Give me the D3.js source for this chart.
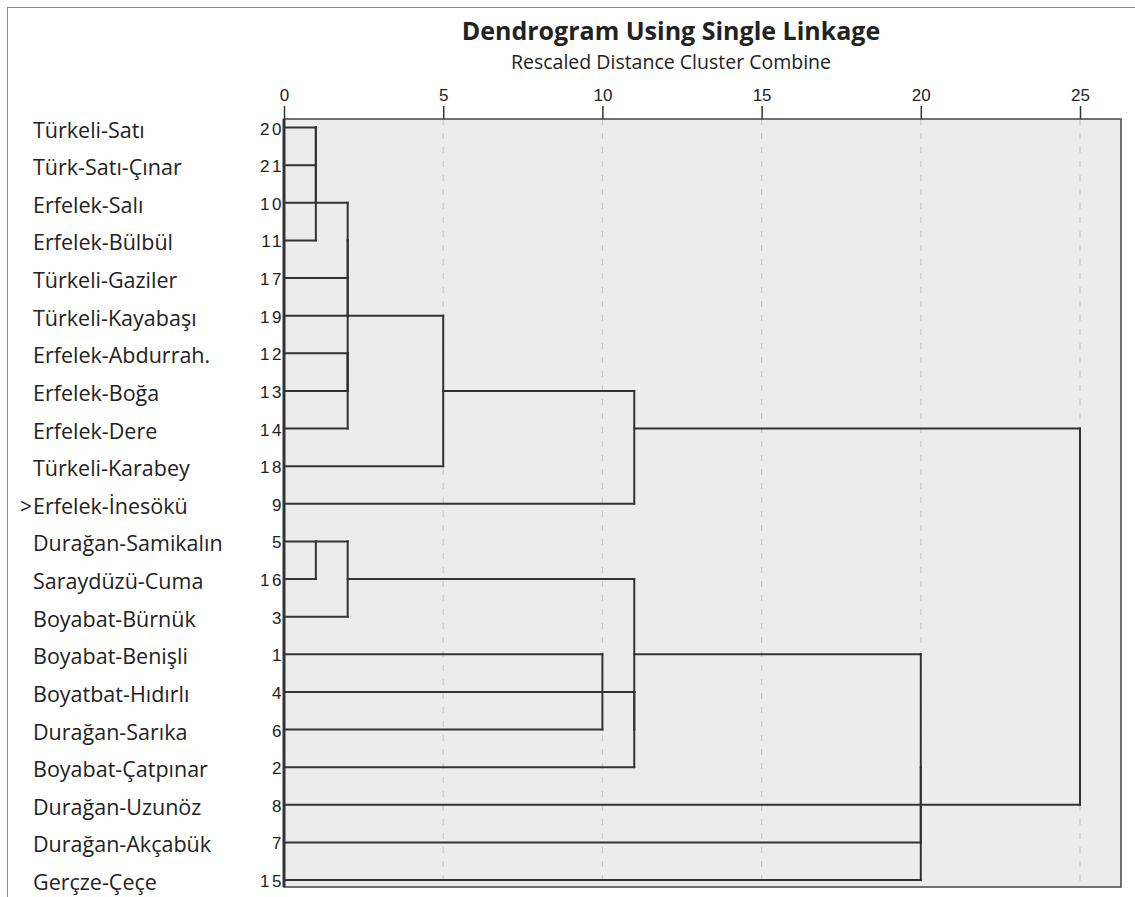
<!DOCTYPE html>
<html>
<head>
<meta charset="utf-8">
<script src="https://cdn.jsdelivr.net/npm/d3@7"></script>
<style>
  body { margin: 0; background: #fff; }
  text { fill: #222; }
</style>
</head>
<body>
<svg id="chart" width="1135" height="897"></svg>
<script>
// cases, top to bottom as they sit in the tree
const caseOrder = [20, 21, 10, 11, 17, 19, 12, 13, 14, 18, 9, 5, 16, 3, 1, 4, 6, 2, 8, 7, 15];
const caseNames = ["Türkeli-Satı", "Türk-Satı-Çınar", "Erfelek-Salı", "Erfelek-Bülbül", "Türkeli-Gaziler",
  "Türkeli-Kayabaşı", "Erfelek-Abdurrah.", "Erfelek-Boğa", "Erfelek-Dere", "Türkeli-Karabey",
  "Erfelek-İnesökü", "Durağan-Samikalın", "Saraydüzü-Cuma", "Boyabat-Bürnük", "Boyabat-Benişli",
  "Boyatbat-Hıdırlı", "Durağan-Sarıka", "Boyabat-Çatpınar", "Durağan-Uzunöz", "Durağan-Akçabük", "Gerçze-Çeçe"];
const markedCase = 9;

// agglomeration schedule: negative = case number, positive = earlier step (1-based)
const mergeLeft   = [-20, 1, 2, 3, 4, -12, 6, 5, 8, 9, -5, 11, -1, 13, 14, 12, 16, 17, 18, 10];
const mergeRight  = [-21, -10, -11, -17, -19, -13, -14, 7, -18, -9, -16, -3, -6, -4, -2, 15, -15, -7, -8, 19];
const mergeHeight = [1, 1, 1, 2, 2, 2, 2, 2, 5, 11, 1, 2, 10, 11, 11, 11, 20, 20, 20, 25];

const distTicks = [0, 5, 10, 15, 20, 25];

const svg = d3.select("#chart");
const plotLeft = 284, plotRight = 1121, plotTop = 119, plotBottom = 887;

const x = d3.scaleLinear().domain([0, 25]).range([plotLeft, 1080]);
const y = d3.scaleLinear().domain([0, caseOrder.length - 1]).range([127.5, 880]);

// outer frame
svg.append("rect")
  .attr("x", 7.5).attr("y", 7.5).attr("width", 1160).attr("height", 920)
  .attr("fill", "none").attr("stroke", "#8a8a8a").attr("stroke-width", 1);

// titles
svg.append("text")
  .attr("x", 671).attr("y", 40).attr("text-anchor", "middle")
  .style("font-family", "'Open Sans', sans-serif").style("font-weight", 700).style("font-size", "25px")
  .text("Dendrogram Using Single Linkage");
svg.append("text")
  .attr("x", 671).attr("y", 69).attr("text-anchor", "middle")
  .style("font-family", "'Open Sans', sans-serif").style("font-size", "19.5px")
  .text("Rescaled Distance Cluster Combine");

// plot background
svg.append("rect")
  .attr("x", plotLeft).attr("y", plotTop)
  .attr("width", plotRight - plotLeft).attr("height", plotBottom - plotTop)
  .attr("fill", "#ececec");

// dashed grid
svg.append("g").selectAll("line")
  .data(distTicks.filter(d => d > 0))
  .join("line")
  .attr("x1", d => x(d)).attr("x2", d => x(d))
  .attr("y1", plotTop).attr("y2", plotBottom)
  .attr("stroke", "#c8c8c8").attr("stroke-width", 1.2).attr("stroke-dasharray", "6,8");

// axis on top
const axis = svg.append("g")
  .attr("transform", `translate(0,${plotTop})`)
  .call(d3.axisTop(x).tickValues(distTicks).tickSize(13).tickPadding(5));
axis.select(".domain").remove();
axis.selectAll(".tick line").attr("stroke", "#333").attr("stroke-width", 1.5);
axis.selectAll(".tick text")
  .style("font-family", "'Liberation Sans', Arial, sans-serif").style("font-size", "17px").attr("fill", "#444");

// work out the segments of the tree
const rowOf = new Map(caseOrder.map((c, i) => [c, i]));
const steps = [];
const node = ref => ref < 0 ? { row: rowOf.get(-ref), h: 0 } : steps[ref - 1];
const segs = [];
mergeLeft.forEach((l, i) => {
  const a = node(l), b = node(mergeRight[i]), h = mergeHeight[i];
  segs.push([a.h, a.row, h, a.row], [b.h, b.row, h, b.row], [h, a.row, h, b.row]);
  steps.push({ row: Math.floor((a.row + b.row) / 2), h });
});

svg.append("g").selectAll("line")
  .data(segs)
  .join("line")
  .attr("x1", d => x(d[0])).attr("y1", d => y(d[1]))
  .attr("x2", d => x(d[2])).attr("y2", d => y(d[3]))
  .attr("stroke", "#333").attr("stroke-width", 2).attr("stroke-linecap", "square");

// plot border
svg.append("rect")
  .attr("x", plotLeft).attr("y", plotTop)
  .attr("width", plotRight - plotLeft).attr("height", plotBottom - plotTop)
  .attr("fill", "none").attr("stroke", "#444").attr("stroke-width", 1.5);
svg.append("line")
  .attr("x1", plotLeft).attr("x2", plotLeft).attr("y1", plotTop).attr("y2", plotBottom)
  .attr("stroke", "#333").attr("stroke-width", 3);

// case numbers and names
const rows = svg.append("g").selectAll("g")
  .data(caseOrder)
  .join("g")
  .attr("transform", (d, i) => `translate(0,${y(i)})`);

rows.append("text")
  .attr("x", plotLeft).attr("y", 7).attr("text-anchor", "end")
  .style("font-family", "'Liberation Sans', Arial, sans-serif").style("font-size", "17px")
  .style("letter-spacing", "2.5px").attr("fill", "#333")
  .text(d => d);

rows.append("text")
  .attr("x", 33).attr("y", 10)
  .style("font-family", "'Open Sans', sans-serif").style("font-size", "21.5px")
  .text((d, i) => caseNames[i]);

rows.filter(d => d === markedCase).append("text")
  .attr("x", 32).attr("y", 10).attr("text-anchor", "end")
  .style("font-family", "'Open Sans', sans-serif").style("font-size", "21px")
  .text(">");
</script>
</body>
</html>
